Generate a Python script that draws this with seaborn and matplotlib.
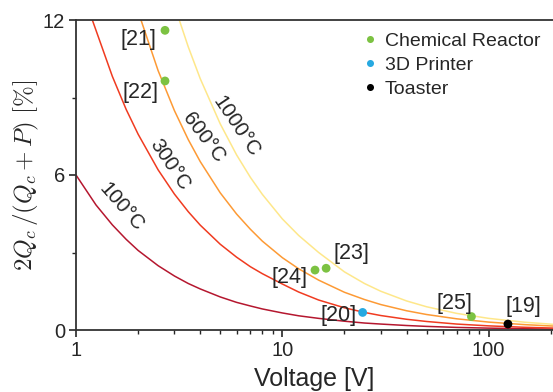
import numpy as np
import pandas as pd
import matplotlib
matplotlib.use("Agg")
import matplotlib.pyplot as plt
import seaborn as sns

# curves (voltage [V], 2Qc/(Qc+P) [%])
v_100 = [1, 1.25, 1.5, 1.75, 2, 2.5, 3, 3.5, 4, 5, 6, 7, 8, 10, 12, 15, 20, 25, 30, 40, 50, 70, 100, 150, 205]
y_100 = [6.0, 4.84, 4.07, 3.51, 3.08, 2.49, 2.09, 1.80, 1.59, 1.28, 1.07, 0.93, 0.815, 0.66, 0.55, 0.45,
         0.34, 0.27, 0.23, 0.174, 0.14, 0.10, 0.072, 0.049, 0.036]
v_300 = [1, 1.2, 1.5, 1.75, 2, 2.5, 3, 3.5, 4, 5, 6, 7, 8, 10, 12, 15, 20, 25, 30, 40, 50, 70, 100, 150, 205]
y_300 = [14.1, 12.0, 9.82, 8.54, 7.58, 6.2, 5.26, 4.58, 4.06, 3.32, 2.82, 2.45, 2.18, 1.78, 1.47, 1.16,
         0.86, 0.68, 0.56, 0.415, 0.33, 0.23, 0.16, 0.104, 0.075]
v_600 = [1.5, 2, 2.5, 3, 3.5, 4, 5, 6, 7, 8, 10, 12, 15, 20, 25, 30, 40, 50, 70, 100, 150, 205]
y_600 = [16.1, 12.33, 10.04, 8.49, 7.37, 6.52, 5.31, 4.49, 3.9, 3.44, 2.80, 2.37, 1.93, 1.46, 1.18, 0.985,
         0.745, 0.60, 0.433, 0.306, 0.207, 0.153]
v_1000 = [2, 2.5, 3, 3.5, 4, 5, 6, 7, 8, 10, 12, 15, 20, 25, 30, 40, 50, 70, 100, 150, 205]
y_1000 = [18.0, 14.8, 12.56, 10.96, 9.73, 7.98, 6.78, 5.91, 5.25, 4.30, 3.66, 3.0, 2.25, 1.8, 1.5, 1.125,
          0.9, 0.643, 0.45, 0.30, 0.22]
curve_names = ["100°C", "300°C", "600°C", "1000°C"]
curve_colors = ["#b5172f", "#f03b20", "#fd9a35", "#fee78a"]

# literature devices
dev_refs = ["[21]", "[22]", "[24]", "[23]", "[25]", "[20]", "[19]"]
dev_volt = [2.7, 2.7, 14.4, 16.3, 82.5, 24.5, 124]
dev_val = [11.6, 9.64, 2.32, 2.39, 0.52, 0.68, 0.23]
dev_type = ["Chemical Reactor"] * 5 + ["3D Printer", "Toaster"]
type_colors = {"Chemical Reactor": "#7cc242", "3D Printer": "#27a9e1", "Toaster": "black"}
# label offsets from the marker, pixels
lbl_dx = [-27, -25, -26, 25, -17, -24, 15]
lbl_dy = [-9, -12, -7, 15, 13, -3, 18]

# curve label placement (anchor on the curve, then nudged off it in pixels)
clab_x = [1.58, 2.73, 4.08, 5.89]
clab_y = [4.6, 6.27, 7.36, 7.84]
clab_rot = [-49, -56, -53, -56]
clab_nudge = [(4, 4), (4, 3), (2, 2), (1, 1)]

sns.set_style("ticks")
plt.rcParams["font.family"] = ["Liberation Sans", "DejaVu Sans"]
plt.rcParams["mathtext.fontset"] = "cm"

curves = pd.concat([
    pd.DataFrame({"V": v, "y": y, "T": n})
    for v, y, n in zip([v_100, v_300, v_600, v_1000], [y_100, y_300, y_600, y_1000], curve_names)
])
devices = pd.DataFrame({"V": dev_volt, "y": dev_val, "type": dev_type, "ref": dev_refs})

fig = plt.figure(figsize=(5.53, 3.92), dpi=100)
ax = fig.add_axes([76 / 553, 62 / 392, 477 / 553, 310 / 392])

sns.lineplot(data=curves, x="V", y="y", hue="T", palette=curve_colors,
             linewidth=1.1, legend=False, ax=ax, zorder=2)
sns.scatterplot(data=devices, x="V", y="y", hue="type", palette=type_colors,
                s=40, edgecolor="none", ax=ax, zorder=3)

ax.set_xscale("log")
ax.set_xlim(1, 205)
ax.set_ylim(0, 12)
ax.set_yticks([0, 6, 12])
ax.set_yticks([3, 9], minor=True)
ax.set_xticks([1, 10, 100])
ax.set_xticklabels(["1", "10", "100"])

for i, row in devices.iterrows():
    ax.annotate(row["ref"], (row["V"], row["y"]), xytext=(lbl_dx[i], lbl_dy[i]),
                textcoords="offset pixels", ha="center", va="center", fontsize=15.5)

for n, x, y, r, d in zip(curve_names, clab_x, clab_y, clab_rot, clab_nudge):
    ax.annotate(n, (x, y), xytext=d, textcoords="offset pixels", rotation=r,
                ha="center", va="center", fontsize=14.8, rotation_mode="anchor")

ax.set_xlabel("Voltage [V]", fontsize=18, labelpad=5)
ax.set_ylabel(r"$2Q_c\,/(Q_c+P)\ [\%]$", fontsize=18, labelpad=1)
ax.tick_params(axis="both", which="major", labelsize=14.5, length=5, width=1.2, direction="out", pad=3)
ax.tick_params(axis="both", which="minor", length=3, width=1.0, direction="out")
for s in ["left", "bottom", "top"]:
    ax.spines[s].set_visible(True)
    ax.spines[s].set_linewidth(1.3)
    ax.spines[s].set_color("#333333")
ax.spines["right"].set_visible(False)

leg = ax.legend(loc="upper right", frameon=False, fontsize=14, handletextpad=0.3,
                handlelength=0.9, labelspacing=0.32, borderaxespad=0.25, markerscale=0.8,
                bbox_to_anchor=(1.0, 1.0))

fig.savefig("out.png", dpi=100)
